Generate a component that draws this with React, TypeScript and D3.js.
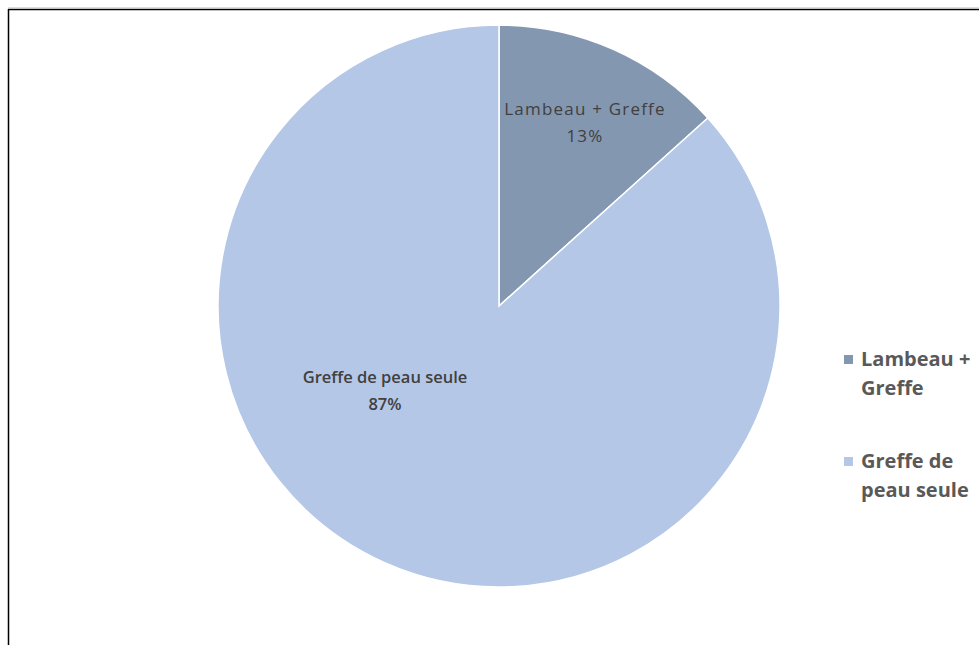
import React from "react";
import * as d3 from "d3";

const categories = ["Lambeau + Greffe", "Greffe de peau seule"];
const values = [2, 13];
const colors = ["#8497b0", "#b4c7e7"];
const legendLines = [["Lambeau +", "Greffe"], ["Greffe de", "peau seule"]];

export default function App() {
  const W = 979, H = 645;
  const cx = 499, cy = 306, r = 281;
  const total = d3.sum(values);
  const pie = d3.pie<number>().sort(null).value((d) => d)(values);
  const arc = d3.arc<d3.PieArcDatum<number>>().innerRadius(0).outerRadius(r);
  const labelPos = [
    [86, -191],
    [-114, 77],
  ];
  const font = "'Open Sans', 'Liberation Sans', sans-serif";
  const legendY = [366, 468];
  return (
    <svg width={W} height={H} style={{ position: "absolute", left: 0, top: 0, background: "#fff" }}>
      <line x1={8.5} y1={9} x2={8.5} y2={H} stroke="#000" strokeWidth={1.5} />
      <line x1={8} y1={9.5} x2={W} y2={9.5} stroke="#000" strokeWidth={1.5} />
      <line x1={8} y1={7.5} x2={W} y2={7.5} stroke="#ddd" strokeWidth={1} />
      <g transform={`translate(${cx},${cy})`}>
        {pie.map((p, i) => (
          <path key={i} d={arc(p) || ""} fill={colors[i]} stroke="#fff" strokeWidth={1.5} />
        ))}
        {pie.map((p, i) => {
          const [x, y] = labelPos[i];
          const pct = Math.round((values[i] / total) * 100) + "%";
          return (
            <text key={i} x={x} y={y} textAnchor="middle" fontFamily={font}
              fontSize={i === 1 ? 16.5 : 17} fill="#404040" fontWeight={i === 1 ? 600 : 400}
              letterSpacing={i === 0 ? 1.2 : 0}>
              <tspan x={x} dy={0}>{categories[i]}</tspan>
              <tspan x={x} dy={27}>{pct}</tspan>
            </text>
          );
        })}
      </g>
      {categories.map((c, i) => {
        const y0 = legendY[i];
        return (
          <g key={c}>
            <rect x={844} y={y0 - 11} width={9} height={9} fill={colors[i]} />
            <text x={861} y={y0} fontFamily={font} fontSize={20} fontWeight={700} fill="#595959">
              <tspan x={861} dy={0}>{legendLines[i][0]}</tspan>
              <tspan x={861} dy={29}>{legendLines[i][1]}</tspan>
            </text>
          </g>
        );
      })}
    </svg>
  );
}
